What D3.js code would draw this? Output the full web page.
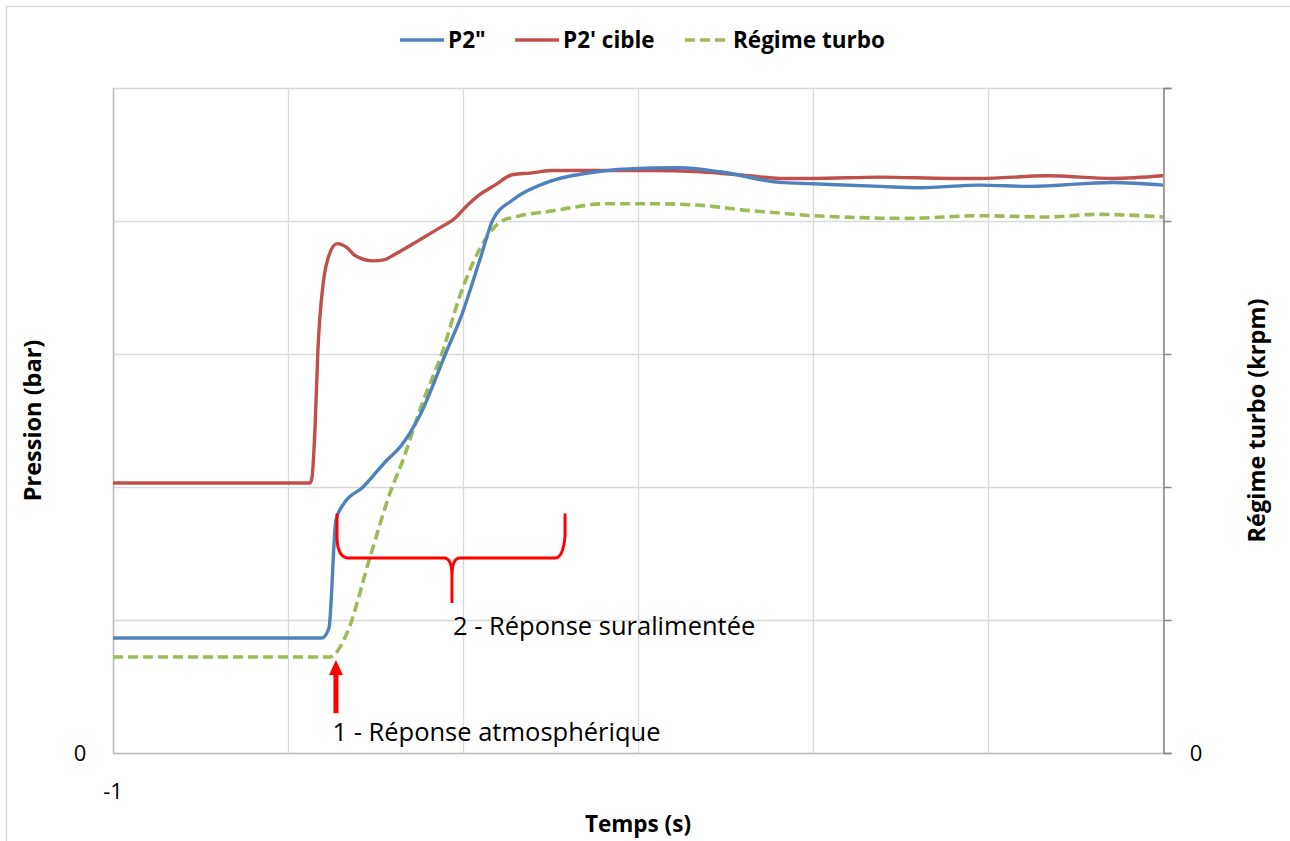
<!DOCTYPE html>
<html>
<head>
<meta charset="utf-8">
<script src="https://cdn.jsdelivr.net/npm/d3@7"></script>
<style>
  body { margin: 0; background: #ffffff; }
  svg { display: block; }
</style>
</head>
<body>
<svg id="chart" width="1290" height="841"></svg>
<script>
// ---- data ----
const timeP2 = [-1.000, 0.194, 0.234, 0.274, 0.314, 0.429, 0.566, 0.640, 0.754, 0.909, 0.983, 1.097, 1.171, 1.286, 1.480, 1.766, 1.914, 2.240, 2.469, 2.811, 3.000, 3.383, 3.611, 3.954, 4.240, 4.714, 5.000];
const valP2  = [0.865, 0.865, 0.940, 1.752, 1.865, 2.000, 2.203, 2.300, 2.540, 3.030, 3.260, 3.710, 4.010, 4.160, 4.290, 4.370, 4.390, 4.400, 4.370, 4.290, 4.280, 4.260, 4.250, 4.270, 4.260, 4.290, 4.270];

const timeCible = [-1.000, 0.126, 0.137, 0.154, 0.171, 0.200, 0.229, 0.280, 0.337, 0.383, 0.486, 0.554, 0.611, 0.754, 0.869, 0.954, 1.011, 1.097, 1.183, 1.286, 1.383, 1.514, 1.783, 2.069, 2.354, 2.640, 2.811, 3.000, 3.383, 3.783, 3.954, 4.337, 4.714, 5.000];
const valCible  = [2.030, 2.030, 2.070, 2.430, 3.030, 3.520, 3.720, 3.830, 3.800, 3.740, 3.700, 3.710, 3.750, 3.860, 3.950, 4.020, 4.100, 4.200, 4.270, 4.350, 4.360, 4.380, 4.380, 4.380, 4.370, 4.340, 4.320, 4.320, 4.330, 4.320, 4.320, 4.340, 4.320, 4.340];

const timeTurbo = [-1.000, 0.240, 0.337, 0.469, 0.583, 0.657, 0.754, 0.886, 0.983, 1.137, 1.211, 1.326, 1.480, 1.823, 2.069, 2.337, 2.623, 2.811, 3.000, 3.537, 3.954, 4.337, 4.623, 5.000];
const valTurbo  = [0.722, 0.722, 0.902, 1.474, 1.955, 2.203, 2.580, 3.030, 3.440, 3.880, 3.990, 4.040, 4.070, 4.130, 4.130, 4.120, 4.080, 4.060, 4.040, 4.020, 4.040, 4.030, 4.050, 4.030];

const xTicks = [-1, 0, 1, 2, 3, 4, 5];
const xTickLabels = ["-1", "", "", "", "", "", ""];
const yTicks = [0, 1, 2, 3, 4, 5];
const yTickLabels = ["0", "", "", "", "", ""];

const seriesNames = ["P2\"", "P2' cible", "Régime turbo"];
const seriesColors = ["#4f81bd", "#c0504d", "#9bbb59"];

// annotation anchors, in data units
const braceT = { left: 0.28, center: 0.937, right: 1.583 };
const braceV = { top: 1.80, mid: 1.466, tip: 1.128 };
const arrowT = 0.274;
const arrowV = { tip: 0.70, base: 0.30 };
const note1 = { t: 0.254, v: 0.09, text: "1 - Réponse atmosphérique" };
const note2 = { t: 0.943, v: 0.887, text: "2 - Réponse suralimentée" };

// ---- layout ----
const W = 1290, H = 841;
const m = { left: 113, right: 1163, top: 88, bottom: 753 };
const font = '"Open Sans", "Liberation Sans", sans-serif';

const svg = d3.select("#chart").style("font-family", font);

svg.append("rect").attr("width", W).attr("height", H).attr("fill", "#ffffff");
// outer chart frame
svg.append("rect")
  .attr("x", 6.5).attr("y", 6.5)
  .attr("width", W).attr("height", H)
  .attr("fill", "none").attr("stroke", "#d9d9d9").attr("stroke-width", 1.5);

const x = d3.scaleLinear().domain([-1, 5]).range([m.left, m.right]);
const yL = d3.scaleLinear().domain([0, 5]).range([m.bottom, m.top]);
const yR = d3.scaleLinear().domain([0, 5]).range([m.bottom, m.top]);

// grid
const grid = svg.append("g");
grid.selectAll("line.hg").data(yTicks).join("line")
  .attr("x1", m.left).attr("x2", m.right)
  .attr("y1", d => yL(d) + 0.5).attr("y2", d => yL(d) + 0.5)
  .attr("stroke", "#d9d9d9").attr("stroke-width", 1.3);
grid.selectAll("line.vg").data(xTicks).join("line")
  .attr("y1", m.top).attr("y2", m.bottom)
  .attr("x1", d => x(d) + 0.5).attr("x2", d => x(d) + 0.5)
  .attr("stroke", "#d9d9d9").attr("stroke-width", 1.3);

// left axis line + bottom axis line (light)
svg.append("line").attr("x1", m.left + 0.5).attr("x2", m.left + 0.5)
  .attr("y1", m.top).attr("y2", m.bottom)
  .attr("stroke", "#bfbfbf").attr("stroke-width", 1.5);
svg.append("line").attr("x1", m.left).attr("x2", m.right)
  .attr("y1", m.bottom + 0.5).attr("y2", m.bottom + 0.5)
  .attr("stroke", "#bfbfbf").attr("stroke-width", 1.5);

// right axis (secondary) with outward ticks
const axR = svg.append("g")
  .attr("transform", `translate(${m.right + 0.5},0)`)
  .call(d3.axisRight(yR).tickValues(yTicks).tickSize(8).tickFormat(() => ""));
axR.select(".domain").attr("stroke", "#868686").attr("stroke-width", 1.5);
axR.selectAll(".tick line").attr("stroke", "#868686").attr("stroke-width", 1.5);

// tick labels
svg.selectAll("text.yl").data(yTicks).join("text")
  .attr("x", 80).attr("y", d => yL(d) + 8)
  .attr("text-anchor", "middle").attr("font-size", 22).attr("fill", "#000")
  .text((d, i) => yTickLabels[i]);
svg.selectAll("text.yr").data(yTicks).join("text")
  .attr("x", 1196).attr("y", d => yR(d) + 8)
  .attr("text-anchor", "middle").attr("font-size", 22).attr("fill", "#000")
  .text((d, i) => yTickLabels[i]);
svg.selectAll("text.xl").data(xTicks).join("text")
  .attr("x", d => x(d)).attr("y", 799)
  .attr("text-anchor", "middle").attr("font-size", 22).attr("fill", "#000")
  .text((d, i) => xTickLabels[i]);

// axis titles
svg.append("text")
  .attr("transform", `translate(41,${(m.top + m.bottom) / 2}) rotate(-90)`)
  .attr("text-anchor", "middle").attr("font-size", 23.5).attr("font-weight", 700)
  .text("Pression (bar)");
svg.append("text")
  .attr("transform", `translate(1265,${(m.top + m.bottom) / 2}) rotate(-90)`)
  .attr("text-anchor", "middle").attr("font-size", 23.5).attr("font-weight", 700)
  .text("Régime turbo (krpm)");
svg.append("text")
  .attr("x", (m.left + m.right) / 2).attr("y", 832)
  .attr("text-anchor", "middle").attr("font-size", 22.5).attr("font-weight", 700)
  .text("Temps (s)");

// series
const lineL = d3.line().x(d => x(d[0])).y(d => yL(d[1])).curve(d3.curveMonotoneX);
const lineR = d3.line().x(d => x(d[0])).y(d => yR(d[1])).curve(d3.curveMonotoneX);

svg.append("path")
  .datum(d3.zip(timeTurbo, valTurbo))
  .attr("d", lineR).attr("fill", "none")
  .attr("stroke", seriesColors[2]).attr("stroke-width", 3.6)
  .attr("stroke-dasharray", "10,5").attr("stroke-linejoin", "round");
svg.append("path")
  .datum(d3.zip(timeCible, valCible))
  .attr("d", lineL).attr("fill", "none")
  .attr("stroke", seriesColors[1]).attr("stroke-width", 3.4)
  .attr("stroke-linejoin", "round");
svg.append("path")
  .datum(d3.zip(timeP2, valP2))
  .attr("d", lineL).attr("fill", "none")
  .attr("stroke", seriesColors[0]).attr("stroke-width", 3.4)
  .attr("stroke-linejoin", "round");

// legend
const legendX = [400, 515, 685];
const lg = svg.append("g").attr("font-size", 22.5).attr("font-weight", 700);
seriesNames.forEach((name, i) => {
  const g = lg.append("g").attr("transform", `translate(${legendX[i]},40)`);
  g.append("line").attr("x1", 0).attr("x2", 44).attr("y1", 0).attr("y2", 0)
    .attr("stroke", seriesColors[i]).attr("stroke-width", 3.6)
    .attr("stroke-dasharray", i === 2 ? "10,5" : null);
  g.append("text").attr("x", 48).attr("y", 8).attr("fill", "#000").text(name);
});

// annotations: brace
const bx = { l: x(braceT.left), c: x(braceT.center), r: x(braceT.right) };
const by = { t: yL(braceV.top), m: yL(braceV.mid), p: yL(braceV.tip) };
const brace = [
  `M${bx.l},${by.t}`,
  `L${bx.l},${by.m - 22}`,
  `Q${bx.l},${by.m} ${bx.l + 12},${by.m}`,
  `L${bx.c - 8},${by.m}`,
  `Q${bx.c},${by.m} ${bx.c},${by.m + 18}`,
  `L${bx.c},${by.p}`,
  `M${bx.c},${by.m + 18}`,
  `Q${bx.c},${by.m} ${bx.c + 8},${by.m}`,
  `L${bx.r - 10},${by.m}`,
  `Q${bx.r - 2},${by.m} ${bx.r},${by.m - 22}`,
  `L${bx.r},${by.t}`
].join(" ");
svg.append("path").attr("d", brace).attr("fill", "none")
  .attr("stroke", "#ff0000").attr("stroke-width", 3);

// annotations: arrow
const ax0 = x(arrowT);
svg.append("line")
  .attr("x1", ax0).attr("x2", ax0)
  .attr("y1", yL(arrowV.base)).attr("y2", yL(arrowV.tip) + 12)
  .attr("stroke", "#ff0000").attr("stroke-width", 5);
svg.append("path")
  .attr("d", `M${ax0},${yL(arrowV.tip)} L${ax0 - 7},${yL(arrowV.tip) + 15} L${ax0 + 7},${yL(arrowV.tip) + 15} Z`)
  .attr("fill", "#ff0000");

// annotation texts
[note1, note2].forEach(n => {
  svg.append("text")
    .attr("x", x(n.t)).attr("y", yL(n.v))
    .attr("font-size", 25.5).attr("fill", "#000")
    .text(n.text);
});
</script>
</body>
</html>
